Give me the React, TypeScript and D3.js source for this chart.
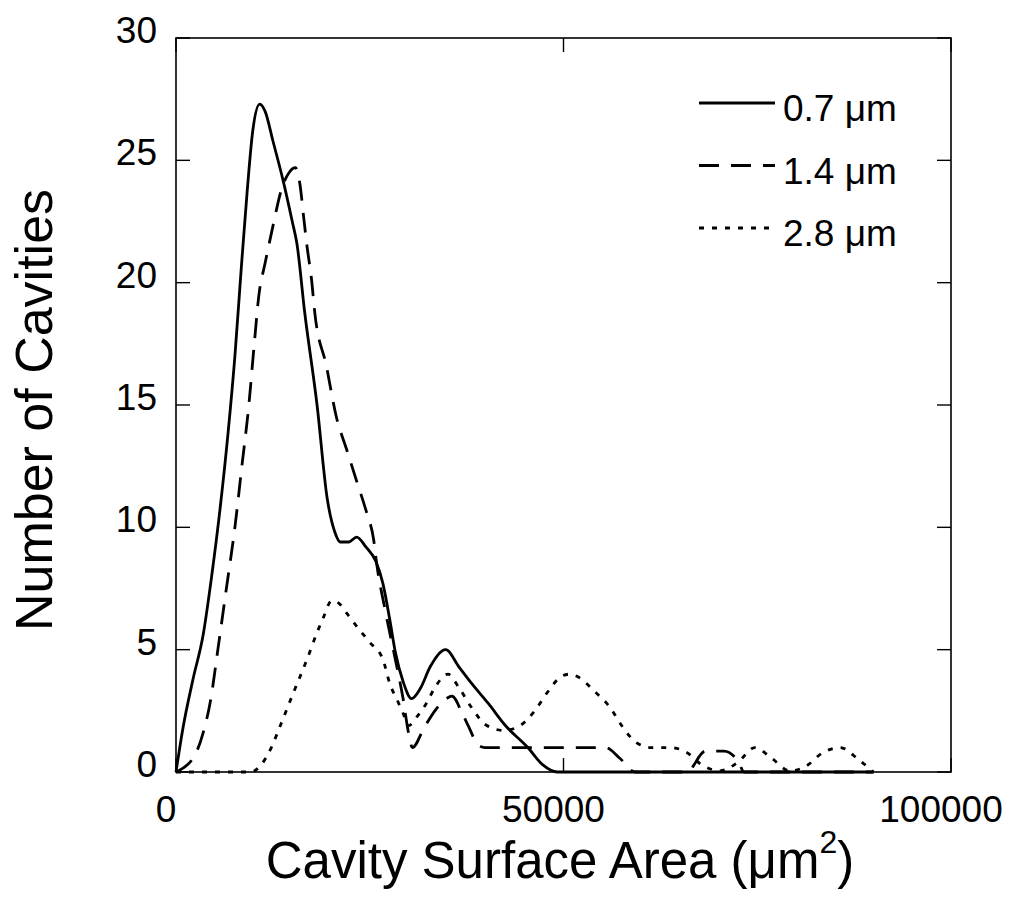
import React from "react";
import * as d3 from "d3";

// values: cavity surface area (um^2) vs number of cavities
const area07 = [0, 900, 2200, 3500, 4600, 5700, 6700, 7600, 8400, 9200, 9900, 10800, 11500, 12500, 13800, 15000, 15600, 16600, 18200, 19500, 20500, 21200, 22300, 23300, 24500, 25800, 26700, 27600, 28300, 29300, 30400, 31500, 32800, 34800, 36500, 38200, 40300, 42500, 45400, 47300, 49200, 60000, 75000, 90000];
const count07 = [0, 1.8, 3.8, 5.6, 8.0, 10.8, 13.8, 17.0, 20.5, 23.8, 26.2, 27.3, 27.0, 25.8, 24.2, 22.5, 21.6, 18.8, 15.0, 11.2, 9.8, 9.4, 9.4, 9.6, 9.2, 8.6, 7.7, 6.2, 4.9, 3.7, 3.0, 3.4, 4.3, 5.0, 4.3, 3.6, 2.8, 1.9, 1.0, 0.3, 0, 0, 0, 0];

const area14 = [0, 2450, 3500, 4500, 5400, 6500, 7600, 8500, 9400, 10100, 10700, 11500, 12500, 13600, 14600, 15400, 16000, 16500, 16900, 17500, 17900, 19400, 20700, 22000, 23300, 24600, 25500, 25900, 27000, 28300, 29300, 30000, 30500, 32000, 33400, 34900, 35600, 37000, 37700, 39000, 39900, 47000, 55400, 57300, 59200, 65900, 68300, 70700, 72600, 73300, 90000];
const count14 = [0, 0.7, 1.6, 3.0, 5.0, 7.5, 10.0, 12.5, 15.0, 17.5, 19.5, 20.8, 22.3, 23.8, 24.5, 24.7, 24.0, 22.6, 21.5, 20.1, 18.8, 16.6, 14.5, 13.2, 11.9, 10.6, 9.5, 8.5, 6.6, 4.6, 3.0, 1.6, 1.0, 1.8, 2.5, 3.0, 3.1, 2.35, 1.9, 1.1, 1.0, 1.0, 1.0, 0.55, 0, 0, 0.85, 0.85, 0.4, 0, 0];

const area28 = [0, 9600, 11000, 12300, 13400, 15100, 16900, 18200, 19000, 20100, 21000, 22000, 23700, 25000, 26700, 27600, 28600, 29300, 30000, 31200, 32300, 33400, 35100, 36500, 38000, 40100, 42300, 44400, 46300, 47800, 49700, 50800, 51800, 54000, 56100, 57500, 59400, 61300, 63700, 65900, 67800, 70200, 72500, 74700, 76900, 79200, 81100, 83500, 85700, 88100, 90000];
const count28 = [0, 0, 0.3, 1.0, 1.85, 3.2, 4.6, 5.7, 6.3, 7.0, 6.9, 6.5, 5.8, 5.3, 4.6, 3.6, 2.9, 2.4, 1.9, 2.3, 2.8, 3.45, 4.0, 3.45, 2.7, 1.9, 1.7, 1.9, 2.5, 3.2, 3.9, 4.0, 3.9, 3.3, 2.6, 1.9, 1.2, 1.0, 1.0, 0.8, 0.3, 0.05, 0.4, 1.0, 0.55, 0.05, 0.2, 0.8, 1.0, 0.5, 0];

const seriesNames = ["0.7 \u03bcm", "1.4 \u03bcm", "2.8 \u03bcm"];
const xTicks = [0, 50000, 100000];
const yTicks = [0, 5, 10, 15, 20, 25, 30];
const xTitle = "Cavity Surface Area (\u03bcm";
const yTitle = "Number of Cavities";

const width = 1013,
  height = 900,
  left = 176,
  right = 951,
  top = 38,
  bottom = 772;

const font = "'Liberation Sans', Arial, Helvetica, sans-serif";

const App = () => {
  const x = d3.scaleLinear().domain([0, 100000]).range([left, right]);
  const y = d3.scaleLinear().domain([0, 30]).range([bottom, top]);

  const line = d3
    .line<[number, number]>()
    .x(d => x(d[0]))
    .y(d => y(d[1]))
    .curve(d3.curveMonotoneX);

  const series = [
    { name: seriesNames[0], xs: area07, ys: count07, dash: "none" },
    { name: seriesNames[1], xs: area14, ys: count14, dash: "20,12" },
    { name: seriesNames[2], xs: area28, ys: count28, dash: "5,8" }
  ];

  const tickLen = 14;

  return (
    <svg
      width={width}
      height={height}
      style={{ position: "absolute", left: 0, top: 0, background: "#fff" }}
      fontFamily={font}
    >
      {/* curves */}
      {series.map((s, i) => (
        <path
          key={i}
          d={line(s.xs.map((v, j) => [v, s.ys[j]] as [number, number])) || ""}
          fill="none"
          stroke="#000"
          strokeWidth={2.8}
          strokeDasharray={s.dash}
        />
      ))}

      {/* frame */}
      <rect
        x={left}
        y={top}
        width={right - left}
        height={bottom - top}
        fill="none"
        stroke="#000"
        strokeWidth={1.6}
      />

      {/* y ticks, left and right, pointing in */}
      {yTicks.map(t => (
        <g key={"y" + t}>
          <line x1={left} x2={left + tickLen} y1={y(t)} y2={y(t)} stroke="#000" strokeWidth={1.4} />
          <line x1={right} x2={right - tickLen} y1={y(t)} y2={y(t)} stroke="#000" strokeWidth={1.4} />
          <text x={157} y={y(t) + 5} fontSize={37} textAnchor="end">
            {t}
          </text>
        </g>
      ))}

      {/* x ticks, bottom and top */}
      {xTicks.map(t => (
        <g key={"x" + t}>
          <line x1={x(t)} x2={x(t)} y1={bottom} y2={bottom - tickLen} stroke="#000" strokeWidth={1.4} />
          <line x1={x(t)} x2={x(t)} y1={top} y2={top + tickLen} stroke="#000" strokeWidth={1.4} />
          <text x={x(t) - 10} y={822} fontSize={37} textAnchor="middle">
            {t}
          </text>
        </g>
      ))}

      {/* axis titles */}
      <text x={560} y={878} fontSize={51} textAnchor="middle">
        {xTitle}
        <tspan fontSize={32} dy={-25}>2</tspan>
        <tspan dy={25}>)</tspan>
      </text>
      <text
        transform={`translate(52,410) rotate(-90)`}
        fontSize={52}
        textAnchor="middle"
      >
        {yTitle}
      </text>

      {/* legend */}
      {series.map((s, i) => {
        const ly = 103 + i * 62.5;
        return (
          <g key={"leg" + i}>
            <line
              x1={699}
              x2={775}
              y1={ly}
              y2={ly}
              stroke="#000"
              strokeWidth={2.8}
              strokeDasharray={s.dash}
            />
            <text x={783} y={ly + 18} fontSize={37}>
              {s.name}
            </text>
          </g>
        );
      })}
    </svg>
  );
};

export default App;
